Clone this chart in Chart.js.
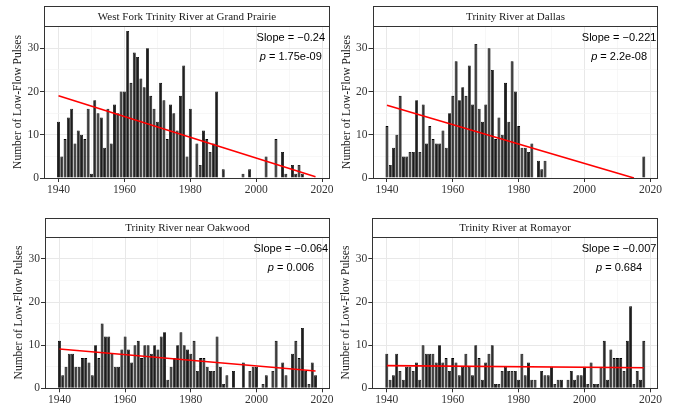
<!DOCTYPE html>
<html lang="en">

<head>
    <meta charset="UTF-8">
    <title>Low-Flow Pulses, Trinity River</title>
    <script src="https://cdn.jsdelivr.net/npm/chart.js"></script>
    <style>
        * {
            margin: 0;
            padding: 0;
            box-sizing: border-box;
        }

        body {
            background-color: #fff;
            width: 673px;
            height: 409px;
            overflow: hidden;
            position: relative;
        }

        .panel {
            position: absolute;
        }
    </style>
</head>

<body>
    <canvas class="panel" id="c0" width="336" height="205" style="left:0;top:0"></canvas>
    <canvas class="panel" id="c1" width="337" height="205" style="left:336px;top:0"></canvas>
    <canvas class="panel" id="c2" width="336" height="204" style="left:0;top:205px"></canvas>
    <canvas class="panel" id="c3" width="337" height="204" style="left:336px;top:205px"></canvas>

    <script>
        // ---- data ----
        const years = [
            1940, 1941, 1942, 1943, 1944, 1945, 1946, 1947, 1948, 1949,
            1950, 1951, 1952, 1953, 1954, 1955, 1956, 1957, 1958, 1959,
            1960, 1961, 1962, 1963, 1964, 1965, 1966, 1967, 1968, 1969,
            1970, 1971, 1972, 1973, 1974, 1975, 1976, 1977, 1978, 1979,
            1980, 1981, 1982, 1983, 1984, 1985, 1986, 1987, 1988, 1989,
            1990, 1991, 1992, 1993, 1994, 1995, 1996, 1997, 1998, 1999,
            2000, 2001, 2002, 2003, 2004, 2005, 2006, 2007, 2008, 2009,
            2010, 2011, 2012, 2013, 2014, 2015, 2016, 2017, 2018
        ];

        const grandPrairie = [
            13, 5, 9, 14, 16, 8, 11, 10, 9, 16,
            1, 18, 15, 14, 7, 16, 8, 17, 15, 20,
            20, 34, 22, 29, 28, 23, 21, 30, 19, 16,
            13, 22, 18, 9, 17, 15, 11, 19, 26, 5,
            16, 0, 8, 3, 11, 9, 6, 8, 20, 0,
            2, 0, 0, 0, 0, 0, 1, 0, 2, 0,
            0, 0, 0, 5, 0, 0, 9, 0, 6, 1,
            0, 3, 1, 3, 1, 0, 0, 0, 0
        ];

        const dallas = [
            12, 3, 7, 10, 19, 5, 5, 6, 6, 18,
            6, 17, 8, 12, 9, 8, 8, 11, 7, 15,
            19, 27, 18, 21, 19, 26, 17, 31, 16, 13,
            17, 30, 25, 9, 14, 10, 22, 13, 27, 20,
            12, 7, 7, 6, 8, 0, 4, 2, 4, 0,
            0, 0, 0, 0, 0, 0, 0, 0, 0, 0,
            0, 0, 0, 0, 0, 0, 0, 0, 0, 0,
            0, 0, 0, 0, 0, 0, 0, 0, 5
        ];

        const oakwood = [
            11, 3, 5, 8, 8, 5, 5, 7, 7, 6,
            3, 10, 7, 15, 12, 12, 8, 5, 5, 9,
            12, 9, 6, 10, 11, 7, 10, 10, 8, 10,
            9, 12, 13, 2, 5, 7, 10, 13, 10, 9,
            8, 11, 4, 7, 7, 5, 4, 4, 12, 5,
            1, 3, 0, 4, 0, 0, 6, 0, 4, 5,
            5, 0, 1, 3, 0, 4, 11, 0, 6, 3,
            0, 8, 11, 7, 14, 4, 1, 6, 3
        ];

        const romayor = [
            8, 2, 3, 8, 4, 2, 5, 5, 4, 6,
            2, 10, 8, 8, 8, 6, 10, 6, 7, 4,
            7, 6, 3, 5, 8, 5, 3, 10, 7, 2,
            6, 8, 10, 1, 1, 4, 5, 4, 4, 4,
            2, 8, 3, 6, 2, 2, 0, 4, 3, 3,
            5, 1, 2, 2, 0, 2, 4, 2, 3, 3,
            5, 1, 6, 1, 1, 5, 11, 2, 9, 7,
            7, 7, 4, 11, 19, 1, 4, 2, 11
        ];

        // fitted trend: [start year, start value, end year, end value]
        const trendGrandPrairie = [1940, 19.0, 2018, 0.3];
        const trendDallas = [1940, 16.8, 2015, 0];
        const trendOakwood = [1940, 9.1, 2018, 4.0];
        const trendRomayor = [1940, 5.25, 2018, 4.75];

        const stationNames = [
            'West Fork Trinity River at Grand Prairie',
            'Trinity River at Dallas',
            'Trinity River near Oakwood',
            'Trinity River at Romayor'
        ];
        const slopeLabels = ['\u22120.24', '\u22120.221', '\u22120.064', '\u22120.007'];
        const pLabels = ['1.75e-09', '2.2e-08', '0.006', '0.684'];

        const xMajorTicks = [1940, 1960, 1980, 2000, 2020];
        const xMinorTicks = [1950, 1970, 1990, 2010];
        const yMajorTicks = [0, 10, 20, 30];
        const yMinorTicks = [5, 15, 25, 35];

        const series = [grandPrairie, dallas, oakwood, romayor];
        const trends = [trendGrandPrairie, trendDallas, trendOakwood, trendRomayor];

        // ---- layout (pixels inside each canvas) ----
        const panelLayout = [
            { yWidth: 44, top: 26, right: 6, xHeight: 27, stripTop: 6 },
            { yWidth: 36.5, top: 26, right: 14.7, xHeight: 27, stripTop: 6 },
            { yWidth: 45, top: 31.7, right: 6, xHeight: 20.7, stripTop: 12.7 },
            { yWidth: 36.3, top: 31.7, right: 14.7, xHeight: 20.7, stripTop: 12.7 }
        ];

        Chart.defaults.font.family = "'Liberation Serif', 'Times New Roman', serif";
        Chart.defaults.color = '#333';

        // strip, panel border, y title and slope/p text
        const panelDecor = {
            id: 'panelDecor',
            afterDraw(chart, args, opts) {
                const { ctx, chartArea: a, scales } = chart;
                const L = Math.round(a.left) + 0.5;
                const R = Math.round(a.right) - 0.5;
                const T = Math.round(a.top) + 0.5;
                const B = Math.round(a.bottom) + 0.5;
                const S = Math.round(opts.stripTop) + 0.5;
                ctx.save();
                ctx.strokeStyle = '#333';
                ctx.lineWidth = 1;
                ctx.fillStyle = '#fff';
                ctx.fillRect(L, S, R - L, T - S);
                ctx.strokeRect(L, S, R - L, T - S);
                ctx.strokeRect(L, T, R - L, B - T);

                ctx.fillStyle = '#1a1a1a';
                ctx.font = "11px 'Liberation Serif'";
                ctx.textAlign = 'center';
                ctx.textBaseline = 'middle';
                ctx.fillText(opts.title, (L + R) / 2, (S + T) / 2 + 0.5);

                // y axis title
                ctx.font = "11.5px 'Liberation Serif'";
                ctx.translate(a.left - 26, (a.top + a.bottom) / 2);
                ctx.rotate(-Math.PI / 2);
                ctx.fillText('Number of Low-Flow Pulses', 0, 0);
                ctx.setTransform(1, 0, 0, 1, 0, 0);

                // annotation
                const cx = scales.x.getPixelForValue(2010.5);
                ctx.fillStyle = '#000';
                ctx.font = "11px 'Liberation Sans'";
                ctx.textAlign = 'center';
                ctx.fillText('Slope = ' + opts.slope, cx, scales.y.getPixelForValue(32.3));
                const rest = ' = ' + opts.p;
                ctx.font = "italic 11px 'Liberation Sans'";
                const wp = ctx.measureText('p').width;
                ctx.font = "11px 'Liberation Sans'";
                const wr = ctx.measureText(rest).width;
                const x0 = cx - (wp + wr) / 2;
                const py = scales.y.getPixelForValue(27.9);
                ctx.textAlign = 'left';
                ctx.fillText(rest, x0 + wp, py);
                ctx.font = "italic 11px 'Liberation Sans'";
                ctx.fillText('p', x0, py);
                ctx.restore();
            }
        };

        function isMajor(list, v) {
            return list.includes(v);
        }

        function makePanel(i) {
            const lay = panelLayout[i];
            const vals = series[i];
            const tr = trends[i];
            return new Chart(document.getElementById('c' + i), {
                type: 'bar',
                data: {
                    datasets: [{
                        type: 'line',
                        data: [{ x: tr[0], y: tr[1] }, { x: tr[2], y: tr[3] }],
                        borderColor: '#ff0000',
                        borderWidth: 1.6,
                        pointRadius: 0,
                        order: 0
                    }, {
                        type: 'bar',
                        data: years.map((y, k) => ({ x: y, y: vals[k] })),
                        backgroundColor: '#1c1c1c',
                        borderColor: '#000',
                        borderWidth: c => (c.raw && c.raw.y > 0 ? 0.8 : 0),
                        barPercentage: 0.9,
                        categoryPercentage: 1,
                        order: 1
                    }]
                },
                options: {
                    responsive: false,
                    animation: false,
                    layout: { padding: { left: 0, top: lay.top, right: lay.right, bottom: 0 } },
                    plugins: {
                        legend: { display: false },
                        tooltip: { enabled: false },
                        panelDecor: {
                            title: stationNames[i],
                            slope: slopeLabels[i],
                            p: pLabels[i],
                            stripTop: lay.stripTop
                        }
                    },
                    scales: {
                        x: {
                            type: 'linear',
                            min: 1935.6,
                            max: 2022.4,
                            offset: false,
                            border: { display: false },
                            afterBuildTicks: s => {
                                s.ticks = xMajorTicks.concat(xMinorTicks).sort().map(v => ({ value: v }));
                            },
                            afterFit: s => { s.height = lay.xHeight; },
                            grid: {
                                offset: false,
                                color: c => (isMajor(xMajorTicks, c.tick.value) ? '#e8e8e8' : '#f3f3f3'),
                                lineWidth: c => (isMajor(xMajorTicks, c.tick.value) ? 1 : 0.7),
                                tickLength: 4,
                                tickColor: c => (isMajor(xMajorTicks, c.tick.value) ? '#333' : 'rgba(0,0,0,0)')
                            },
                            ticks: {
                                maxRotation: 0,
                                autoSkip: false,
                                padding: 1,
                                font: { size: 11.5 },
                                color: '#333',
                                callback: v => (isMajor(xMajorTicks, v) ? String(v) : '')
                            }
                        },
                        y: {
                            min: 0,
                            max: 35.15,
                            border: { display: false },
                            afterBuildTicks: s => {
                                s.ticks = yMajorTicks.concat(yMinorTicks).sort((a, b) => a - b).map(v => ({ value: v }));
                            },
                            afterFit: s => { s.width = lay.yWidth; },
                            grid: {
                                color: c => (isMajor(yMajorTicks, c.tick.value) ? '#e8e8e8' : '#f3f3f3'),
                                lineWidth: c => (isMajor(yMajorTicks, c.tick.value) ? 1 : 0.7),
                                tickLength: 4,
                                tickColor: c => (isMajor(yMajorTicks, c.tick.value) ? '#333' : 'rgba(0,0,0,0)')
                            },
                            ticks: {
                                padding: 1,
                                font: { size: 11.5 },
                                color: '#333',
                                callback: v => (isMajor(yMajorTicks, v) ? String(v) : '')
                            }
                        }
                    }
                },
                plugins: [panelDecor]
            });
        }

        const charts = [0, 1, 2, 3].map(makePanel);
    </script>
</body>

</html>
